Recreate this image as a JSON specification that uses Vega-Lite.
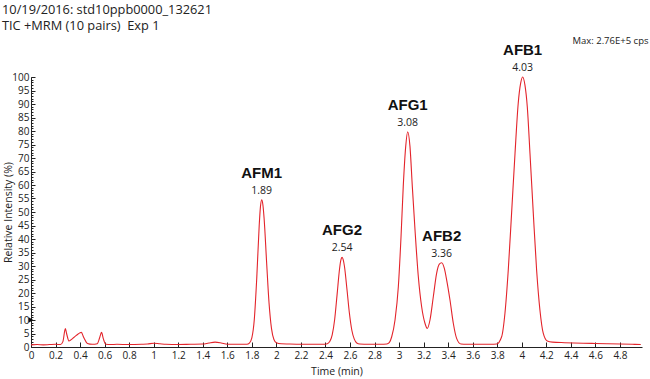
{
  "$schema": "https://vega.github.io/schema/vega-lite/v6.json",
  "autosize": {"type": "none"},
  "width": 611,
  "height": 270,
  "padding": {"left": 31, "top": 77, "right": 8, "bottom": 32},
  "background": "white",
  "config": {
    "view": {"stroke": null},
    "font": "Open Sans",
    "axis": {"grid": false, "domainColor": "#222", "tickColor": "#222", "labelColor": "#222", "titleColor": "#222", "labelFont": "Open Sans", "titleFont": "Open Sans", "labelFontSize": 10, "titleFontSize": 10.5, "titleFontWeight": "normal", "labelFlush": false},
    "axisX": {"tickSize": -5, "labelPadding": 8, "titlePadding": 6, "format": "~g"},
    "axisY": {"tickSize": -4, "labelPadding": 6}
  },
  "title": {
    "text": ["10/19/2016: std10ppb0000_132621", "TIC +MRM (10 pairs)\u00a0 Exp 1"],
    "anchor": "start",
    "frame": "group",
    "dx": -29,
    "offset": 3,
    "font": "Open Sans",
    "fontSize": 12.8,
    "fontWeight": "normal",
    "color": "#222",
    "lineHeight": 16
  },
  "datasets": {
    "trace": [
      {"time": 0.0, "value": 0.8}, {"time": 0.05, "value": 0.9}, {"time": 0.1, "value": 0.8}, {"time": 0.15, "value": 0.9},
      {"time": 0.2, "value": 1.0}, {"time": 0.24, "value": 0.9}, {"time": 0.26, "value": 2.0}, {"time": 0.28, "value": 6.8},
      {"time": 0.29, "value": 5.0}, {"time": 0.31, "value": 2.2}, {"time": 0.34, "value": 3.2}, {"time": 0.37, "value": 4.3},
      {"time": 0.4, "value": 5.3}, {"time": 0.41, "value": 5.4}, {"time": 0.43, "value": 3.5}, {"time": 0.46, "value": 1.3},
      {"time": 0.5, "value": 1.0}, {"time": 0.54, "value": 1.2}, {"time": 0.56, "value": 3.5}, {"time": 0.575, "value": 5.4},
      {"time": 0.59, "value": 3.0}, {"time": 0.61, "value": 1.0}, {"time": 0.65, "value": 0.9}, {"time": 0.7, "value": 1.0},
      {"time": 0.8, "value": 0.9}, {"time": 0.9, "value": 1.0}, {"time": 0.95, "value": 1.1}, {"time": 1.0, "value": 1.4},
      {"time": 1.05, "value": 1.2}, {"time": 1.1, "value": 1.0}, {"time": 1.2, "value": 0.9}, {"time": 1.3, "value": 1.0},
      {"time": 1.4, "value": 1.1}, {"time": 1.45, "value": 1.5}, {"time": 1.5, "value": 1.8}, {"time": 1.55, "value": 1.5},
      {"time": 1.6, "value": 1.0}, {"time": 1.7, "value": 1.0}, {"time": 1.76, "value": 1.0}, {"time": 1.78, "value": 1.45},
      {"time": 1.8, "value": 3.4}, {"time": 1.82, "value": 10.2}, {"time": 1.84, "value": 25.5}, {"time": 1.86, "value": 45},
      {"time": 1.87, "value": 51.9}, {"time": 1.88, "value": 54.5}, {"time": 1.89, "value": 52.7}, {"time": 1.9, "value": 47.6},
      {"time": 1.92, "value": 31.7}, {"time": 1.94, "value": 16.4}, {"time": 1.96, "value": 6.9}, {"time": 1.98, "value": 2.8},
      {"time": 2.0, "value": 1.6}, {"time": 2.04, "value": 1.2}, {"time": 2.1, "value": 1.1}, {"time": 2.2, "value": 1.0},
      {"time": 2.3, "value": 1.0}, {"time": 2.38, "value": 1.0}, {"time": 2.415, "value": 1.2}, {"time": 2.435, "value": 2.0},
      {"time": 2.455, "value": 4.5}, {"time": 2.475, "value": 10.2}, {"time": 2.495, "value": 19.5}, {"time": 2.515, "value": 29.0},
      {"time": 2.525, "value": 32.1}, {"time": 2.535, "value": 33.2}, {"time": 2.545, "value": 32.3}, {"time": 2.555, "value": 29.8},
      {"time": 2.575, "value": 21.5}, {"time": 2.595, "value": 12.6}, {"time": 2.615, "value": 6.2}, {"time": 2.635, "value": 2.9},
      {"time": 2.655, "value": 1.5}, {"time": 2.68, "value": 1.1}, {"time": 2.75, "value": 1.0}, {"time": 2.85, "value": 1.0},
      {"time": 2.9, "value": 1.1}, {"time": 2.92, "value": 1.6}, {"time": 2.94, "value": 3.8}, {"time": 2.967, "value": 10},
      {"time": 2.994, "value": 22.3}, {"time": 3.016, "value": 40.9}, {"time": 3.034, "value": 59.4}, {"time": 3.054, "value": 74.2},
      {"time": 3.07, "value": 79.7}, {"time": 3.089, "value": 74.2}, {"time": 3.108, "value": 59.4}, {"time": 3.13, "value": 43.3},
      {"time": 3.157, "value": 26}, {"time": 3.184, "value": 14.9}, {"time": 3.211, "value": 8.8}, {"time": 3.23, "value": 6.9},
      {"time": 3.252, "value": 10}, {"time": 3.279, "value": 18.6}, {"time": 3.306, "value": 27.3}, {"time": 3.328, "value": 30.7},
      {"time": 3.347, "value": 31.2}, {"time": 3.369, "value": 29.1}, {"time": 3.388, "value": 24.8}, {"time": 3.415, "value": 17.4},
      {"time": 3.442, "value": 8.8}, {"time": 3.469, "value": 3.2}, {"time": 3.505, "value": 1.1}, {"time": 3.55, "value": 1.0},
      {"time": 3.65, "value": 1.0}, {"time": 3.75, "value": 1.0}, {"time": 3.795, "value": 1.1}, {"time": 3.836, "value": 3.8},
      {"time": 3.863, "value": 12.5}, {"time": 3.89, "value": 28.5}, {"time": 3.917, "value": 49.5}, {"time": 3.945, "value": 71.7},
      {"time": 3.971, "value": 90.2}, {"time": 3.991, "value": 97.7}, {"time": 4.007, "value": 100}, {"time": 4.026, "value": 97},
      {"time": 4.045, "value": 89}, {"time": 4.067, "value": 71.7}, {"time": 4.094, "value": 49.5}, {"time": 4.121, "value": 28.5},
      {"time": 4.148, "value": 13.7}, {"time": 4.175, "value": 5.1}, {"time": 4.208, "value": 2.2}, {"time": 4.25, "value": 1.8},
      {"time": 4.35, "value": 1.6}, {"time": 4.5, "value": 1.4}, {"time": 4.6, "value": 1.3}, {"time": 4.7, "value": 1.2},
      {"time": 4.8, "value": 1.1}, {"time": 4.9, "value": 1.0}, {"time": 4.97, "value": 0.9}
    ],
    "peaks": [
      {"name": "AFM1", "rt": "1.89", "time": 1.88, "value": 54.5},
      {"name": "AFG2", "rt": "2.54", "time": 2.535, "value": 33.2},
      {"name": "AFG1", "rt": "3.08", "time": 3.07, "value": 79.7},
      {"name": "AFB2", "rt": "3.36", "time": 3.347, "value": 31.2},
      {"name": "AFB1", "rt": "4.03", "time": 4.007, "value": 100}
    ],
    "marker": [{"time": 0, "value": 10}],
    "header": [{"text": "Max: 2.76E+5 cps"}]
  },
  "layer": [
    {
      "data": {"name": "trace"},
      "mark": {"type": "line", "color": "#e3242b", "strokeWidth": 1.1, "interpolate": "monotone"},
      "encoding": {
        "x": {"field": "time", "type": "quantitative", "scale": {"domain": [0, 4.98], "nice": false, "zero": false},
          "axis": {"title": "Time (min)", "labelOverlap": false, "values": [0, 0.2, 0.4, 0.6, 0.8, 1, 1.2, 1.4, 1.6, 1.8, 2, 2.2, 2.4, 2.6, 2.8, 3, 3.2, 3.4, 3.6, 3.8, 4, 4.2, 4.4, 4.6, 4.8]}},
        "y": {"field": "value", "type": "quantitative", "scale": {"domain": [0, 100], "nice": false},
          "axis": {"title": "Relative Intensity (%)", "orient": "left", "labelOverlap": false, "values": [0, 5, 10, 15, 20, 25, 30, 35, 40, 45, 50, 55, 60, 65, 70, 75, 80, 85, 90, 95, 100],
            "titleX": -18, "titleY": 135, "titleAlign": "center", "titleAngle": -90, "titleBaseline": "bottom"}}
      }
    },
    {
      "data": {"name": "marker"},
      "mark": {"type": "point", "shape": "triangle-right", "filled": true, "color": "#111", "size": 30, "opacity": 1},
      "encoding": {
        "x": {"field": "time", "type": "quantitative",
          "axis": {"title": "Time (min)", "labelOverlap": false, "values": [0, 0.2, 0.4, 0.6, 0.8, 1, 1.2, 1.4, 1.6, 1.8, 2, 2.2, 2.4, 2.6, 2.8, 3, 3.2, 3.4, 3.6, 3.8, 4, 4.2, 4.4, 4.6, 4.8]}},
        "y": {"field": "value", "type": "quantitative",
          "axis": {"orient": "left", "values": [0,1,2,3,4,5,6,7,8,9,10,11,12,13,14,15,16,17,18,19,20,21,22,23,24,25,26,27,28,29,30,31,32,33,34,35,36,37,38,39,40,41,42,43,44,45,46,47,48,49,50,51,52,53,54,55,56,57,58,59,60,61,62,63,64,65,66,67,68,69,70,71,72,73,74,75,76,77,78,79,80,81,82,83,84,85,86,87,88,89,90,91,92,93,94,95,96,97,98,99,100],
            "labels": false, "domain": false, "title": null, "tickSize": -2}}
      }
    },
    {
      "data": {"name": "peaks"},
      "mark": {"type": "text", "font": "Open Sans", "fontSize": 10.5, "color": "#222", "baseline": "middle", "dy": -9},
      "encoding": {
        "x": {"field": "time", "type": "quantitative",
          "axis": {"title": "Time (min)", "labelOverlap": false, "values": [0, 0.2, 0.4, 0.6, 0.8, 1, 1.2, 1.4, 1.6, 1.8, 2, 2.2, 2.4, 2.6, 2.8, 3, 3.2, 3.4, 3.6, 3.8, 4, 4.2, 4.4, 4.6, 4.8]}},
        "y": {"field": "value", "type": "quantitative", "axis": null},
        "text": {"field": "rt"}
      }
    },
    {
      "data": {"name": "peaks"},
      "mark": {"type": "text", "font": "Liberation Sans", "fontSize": 15, "fontWeight": "bold", "color": "#111", "baseline": "middle", "dy": -27},
      "encoding": {
        "x": {"field": "time", "type": "quantitative",
          "axis": {"title": "Time (min)", "labelOverlap": false, "values": [0, 0.2, 0.4, 0.6, 0.8, 1, 1.2, 1.4, 1.6, 1.8, 2, 2.2, 2.4, 2.6, 2.8, 3, 3.2, 3.4, 3.6, 3.8, 4, 4.2, 4.4, 4.6, 4.8]}},
        "y": {"field": "value", "type": "quantitative", "axis": null},
        "text": {"field": "name"}
      }
    },
    {
      "data": {"name": "header"},
      "mark": {"type": "text", "font": "Open Sans", "fontSize": 9.5, "color": "#222", "align": "center", "baseline": "middle"},
      "encoding": {
        "x": {"datum": 4.723, "type": "quantitative",
          "axis": {"title": "Time (min)", "labelOverlap": false, "values": [0, 0.2, 0.4, 0.6, 0.8, 1, 1.2, 1.4, 1.6, 1.8, 2, 2.2, 2.4, 2.6, 2.8, 3, 3.2, 3.4, 3.6, 3.8, 4, 4.2, 4.4, 4.6, 4.8]}},
        "y": {"datum": 113.5, "type": "quantitative", "axis": null},
        "text": {"field": "text"}
      }
    }
  ],
  "resolve": {"axis": {"y": "independent"}}
}
